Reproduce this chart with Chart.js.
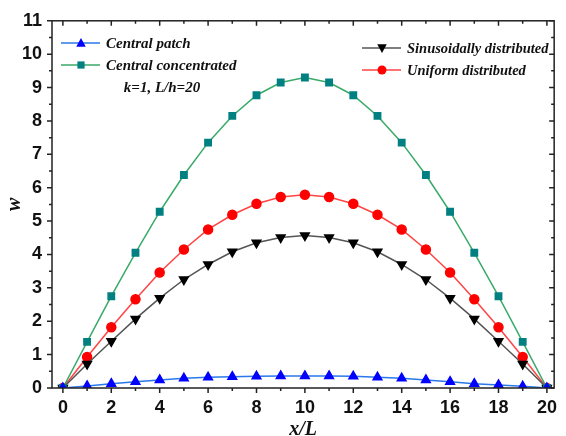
<!DOCTYPE html>
<html>
<head>
<meta charset="utf-8">
<script src="https://cdn.jsdelivr.net/npm/chart.js@4.4.1/dist/chart.umd.min.js"></script>
<style>
  html, body { margin: 0; padding: 0; background: #fff; }
  #wrap { width: 566px; height: 436px; position: relative; }
</style>
</head>
<body>
<div id="wrap"><canvas id="chart"></canvas></div>
<script>
// ===== data =====
const xValues = [0, 1, 2, 3, 4, 5, 6, 7, 8, 9, 10, 11, 12, 13, 14, 15, 16, 17, 18, 19, 20];
const centralPatch = [0, 0.06, 0.13, 0.19, 0.24, 0.29, 0.32, 0.34, 0.35, 0.36, 0.36, 0.36, 0.35, 0.32, 0.29, 0.24, 0.19, 0.13, 0.09, 0.05, 0];
const centralConcentrated = [0, 1.38, 2.75, 4.05, 5.28, 6.38, 7.35, 8.15, 8.77, 9.15, 9.3, 9.15, 8.77, 8.15, 7.35, 6.38, 5.28, 4.05, 2.75, 1.38, 0];
const sinusoidal = [0, 0.72, 1.4, 2.07, 2.69, 3.25, 3.7, 4.08, 4.35, 4.51, 4.57, 4.51, 4.35, 4.08, 3.7, 3.25, 2.69, 2.07, 1.4, 0.72, 0];
const uniform = [0, 0.93, 1.82, 2.66, 3.46, 4.15, 4.75, 5.19, 5.52, 5.72, 5.79, 5.72, 5.52, 5.19, 4.75, 4.15, 3.46, 2.66, 1.82, 0.93, 0];
const xTicks = [0, 2, 4, 6, 8, 10, 12, 14, 16, 18, 20];
const yTicks = [0, 1, 2, 3, 4, 5, 6, 7, 8, 9, 10, 11];

const toPoints = arr => arr.map((v, i) => ({ x: xValues[i], y: v }));

function series(label, data, line, marker, style, rot, r) {
    return {
        label: label,
        data: toPoints(data),
        borderColor: line,
        backgroundColor: marker,
        pointBackgroundColor: marker,
        pointBorderColor: marker,
        pointStyle: style,
        rotation: rot,
        pointRadius: r,
        borderWidth: 1.5,
        tension: 0
    };
}

// ===== legend + frame =====
function drawMarker(ctx, style, x, y, r, color, rot) {
    ctx.save();
    ctx.fillStyle = color;
    ctx.translate(x, y);
    ctx.rotate(rot * Math.PI / 180);
    ctx.beginPath();
    if (style === 'triangle') {
        ctx.moveTo(0, -r);
        ctx.lineTo(r * 0.95, r * 0.75);
        ctx.lineTo(-r * 0.95, r * 0.75);
        ctx.closePath();
    } else if (style === 'rect') {
        ctx.rect(-r * 0.8, -r * 0.8, r * 1.6, r * 1.6);
    } else {
        ctx.arc(0, 0, r, 0, Math.PI * 2);
    }
    ctx.fill();
    ctx.restore();
}

const framePlugin = {
    id: 'frame',
    afterDraw(chart) {
        const ctx = chart.ctx;
        const a = chart.chartArea;
        const xs = chart.scales.x, ys = chart.scales.y;
        ctx.save();
        ctx.strokeStyle = '#222';
        ctx.lineWidth = 1.5;
        ctx.strokeRect(a.left, a.top, a.right - a.left, a.bottom - a.top);
        ctx.beginPath();
        for (let v = 0; v <= 20; v++) {
            const px = xs.getPixelForValue(v);
            const len = v % 2 === 0 ? 5 : 3;
            ctx.moveTo(px, a.bottom); ctx.lineTo(px, a.bottom + len);
            ctx.moveTo(px, a.top); ctx.lineTo(px, a.top + len);
        }
        for (let v = 0; v <= 22; v++) {
            const py = ys.getPixelForValue(v / 2);
            const len = v % 2 === 0 ? 5 : 3;
            ctx.moveTo(a.left, py); ctx.lineTo(a.left - len, py);
            ctx.moveTo(a.right, py); ctx.lineTo(a.right - len, py);
        }
        ctx.stroke();

        // legend
        const items = [
            [0, 61, 43], [1, 61, 65], [2, 362, 48], [3, 362, 70]
        ];
        ctx.font = 'italic bold 15px "Liberation Serif"';
        ctx.textBaseline = 'middle';
        items.forEach(([i, lx, ly]) => {
            const ds = chart.data.datasets[i];
            ctx.strokeStyle = ds.borderColor;
            ctx.lineWidth = 1.5;
            ctx.beginPath();
            ctx.moveTo(lx, ly); ctx.lineTo(lx + 39, ly);
            ctx.stroke();
            drawMarker(ctx, ds.pointStyle, lx + 20, ly, ds.pointRadius, ds.pointBackgroundColor, ds.rotation);
            ctx.fillStyle = '#111';
            ctx.textAlign = 'left';
            ctx.font = i >= 2 ? 'italic bold 14.5px "Liberation Serif"' : 'italic bold 15px "Liberation Serif"';
            ctx.fillText(ds.label, lx + 45, ly + 1);
        });
        ctx.font = 'italic bold 15px "Liberation Serif"';
        ctx.textAlign = 'center';
        ctx.fillText('k=1, L/h=20', 162, 88);
        ctx.restore();
    }
};

new Chart(document.getElementById('chart'), {
    type: 'line',
    data: {
        datasets: [
            series('Central patch', centralPatch, '#2a78ea', '#0000ff', 'triangle', 0, 5),
            series('Central concentrated', centralConcentrated, '#3aaa6a', '#008080', 'rect', 0, 4.5),
            series('Sinusoidally distributed', sinusoidal, '#555555', '#000000', 'triangle', 180, 5),
            series('Uniform distributed', uniform, '#ff4444', '#ff0000', 'circle', 0, 4.5)
        ]
    },
    options: {
        responsive: true,
        maintainAspectRatio: false,
        animation: false,
        layout: { padding: { top: 18, right: 5, left: 0, bottom: 0 } },
        plugins: { legend: { display: false }, tooltip: { enabled: false } },
        scales: {
            x: {
                type: 'linear',
                min: -0.45,
                max: 20.3,
                afterBuildTicks: s => { s.ticks = xTicks.map(v => ({ value: v })); },
                afterFit: s => { s.height = 48; },
                grid: { display: false, drawTicks: false },
                border: { display: false },
                ticks: { color: '#111', padding: 9, font: { family: '"Liberation Sans"', weight: 'bold', size: 18 } },
                title: { display: true, text: 'x/L', color: '#111', padding: { top: 0, bottom: -6 },
                         font: { family: '"Liberation Serif"', style: 'italic', weight: 'bold', size: 20 } }
            },
            y: {
                min: 0,
                max: 11,
                afterBuildTicks: s => { s.ticks = yTicks.map(v => ({ value: v })); },
                afterFit: s => { s.width = 52; },
                grid: { display: false, drawTicks: false },
                border: { display: false },
                ticks: { color: '#111', padding: 10, font: { family: '"Liberation Sans"', weight: 'bold', size: 18 } },
                title: { display: true, text: 'w', color: '#111', padding: { top: 3, bottom: 0 },
                         font: { family: '"Liberation Serif"', style: 'italic', weight: 'bold', size: 20 } }
            }
        }
    },
    plugins: [framePlugin]
});
</script>
</body>
</html>
